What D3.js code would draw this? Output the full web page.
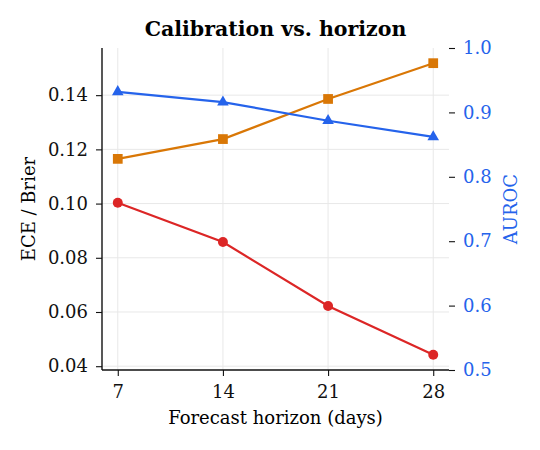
<!DOCTYPE html>
<html>
<head>
<meta charset="utf-8">
<script src="https://cdn.jsdelivr.net/npm/d3@7"></script>
<style>
  body { margin: 0; background: #fff; }
</style>
</head>
<body>
<div id="chart"></div>
<script>
// data
var horizons = [7, 14, 21, 28];
var ece = [0.1003, 0.0858, 0.0622, 0.0442];
var brier = [0.1165, 0.1238, 0.1386, 0.1518];
var auroc = [0.932, 0.916, 0.887, 0.862];
var leftTicks = [0.04, 0.06, 0.08, 0.10, 0.12, 0.14];
var rightTicks = [0.5, 0.6, 0.7, 0.8, 0.9, 1.0];

var W = 540, H = 450;
var margin = { top: 48, right: 91, bottom: 80, left: 102 },
    width = W - margin.left - margin.right,
    height = H - margin.top - margin.bottom;

var blue = "#2563eb", orange = "#d97706", red = "#dc2626";
var serif = "DejaVu Serif";

var svg = d3.select('#chart').append('svg')
    .attr("width", W)
    .attr("height", H);
var g = svg.append("g")
    .attr("transform", "translate(" + margin.left + "," + margin.top + ")");

// scales
var x = d3.scaleLinear().domain([5.95, 29.05]).range([0, width]);
var yL = d3.scaleLinear().domain([0.0386, 0.1574]).range([height, 0]);
var yR = d3.scaleLinear().domain([0.5, 1.0]).range([height, 0]);

// gridlines
g.append("g").selectAll("line").data(horizons).enter().append("line")
    .attr("x1", d => x(d)).attr("x2", d => x(d))
    .attr("y1", 0).attr("y2", height)
    .attr("stroke", "#e8e8e8").attr("stroke-width", 1);
g.append("g").selectAll("line").data(leftTicks).enter().append("line")
    .attr("x1", 0).attr("x2", width)
    .attr("y1", d => yL(d)).attr("y2", d => yL(d))
    .attr("stroke", "#e8e8e8").attr("stroke-width", 1);

// axes
var fs = "18px";
var xAxis = g.append("g")
    .attr("transform", "translate(0," + height + ")")
    .call(d3.axisBottom(x).tickValues(horizons).tickSize(6).tickPadding(9));
var lAxis = g.append("g")
    .call(d3.axisLeft(yL).tickValues(leftTicks).tickFormat(d3.format(".2f")).tickSize(6).tickPadding(8));
var rAxis = g.append("g")
    .attr("transform", "translate(" + width + ",0)")
    .call(d3.axisRight(yR).tickValues(rightTicks).tickFormat(d3.format(".1f")).tickSize(6).tickPadding(8));

[xAxis, lAxis, rAxis].forEach(function(a) {
    a.attr("font-family", serif).attr("font-size", fs);
    a.selectAll("text").attr("fill", "#111");
    a.selectAll(".tick line").attr("stroke", "#111").attr("stroke-width", 1.1);
    a.select(".domain").attr("stroke", "#111").attr("stroke-width", 1.4);
});
rAxis.select(".domain").remove();
rAxis.selectAll("text").attr("fill", blue);
xAxis.select(".domain").attr("d", "M0,0H" + width);
lAxis.select(".domain").attr("d", "M0,0V" + height);

// lines
function drawSeries(vals, yScale, color, shape, size) {
    var pts = horizons.map((h, i) => [x(h), yScale(vals[i])]);
    g.append("path")
        .attr("d", d3.line()(pts))
        .attr("fill", "none")
        .attr("stroke", color)
        .attr("stroke-width", 2.2);
    g.append("g").selectAll("path").data(pts).enter().append("path")
        .attr("transform", d => "translate(" + d[0] + "," + d[1] + ")")
        .attr("d", d3.symbol().type(shape).size(size))
        .attr("fill", color);
}
drawSeries(ece, yL, red, d3.symbolCircle, 78);
drawSeries(brier, yL, orange, d3.symbolSquare, 95);
drawSeries(auroc, yR, blue, d3.symbolTriangle, 58);

// labels
svg.append("text")
    .attr("x", margin.left + width / 2).attr("y", 36)
    .attr("text-anchor", "middle")
    .attr("font-family", serif)
    .attr("font-size", "20.5px").attr("font-weight", "bold")
    .text("Calibration vs. horizon");
svg.append("text")
    .attr("x", margin.left + width / 2).attr("y", 424)
    .attr("text-anchor", "middle")
    .attr("font-family", serif)
    .attr("font-size", fs)
    .text("Forecast horizon (days)");
svg.append("text")
    .attr("transform", "translate(35," + (margin.top + height / 2) + ") rotate(-90)")
    .attr("text-anchor", "middle")
    .attr("font-family", serif)
    .attr("font-size", fs)
    .text("ECE / Brier");
svg.append("text")
    .attr("transform", "translate(517," + (margin.top + height / 2) + ") rotate(-90)")
    .attr("text-anchor", "middle")
    .attr("font-family", serif)
    .attr("font-size", fs)
    .attr("fill", blue)
    .text("AUROC");
</script>
</body>
</html>
